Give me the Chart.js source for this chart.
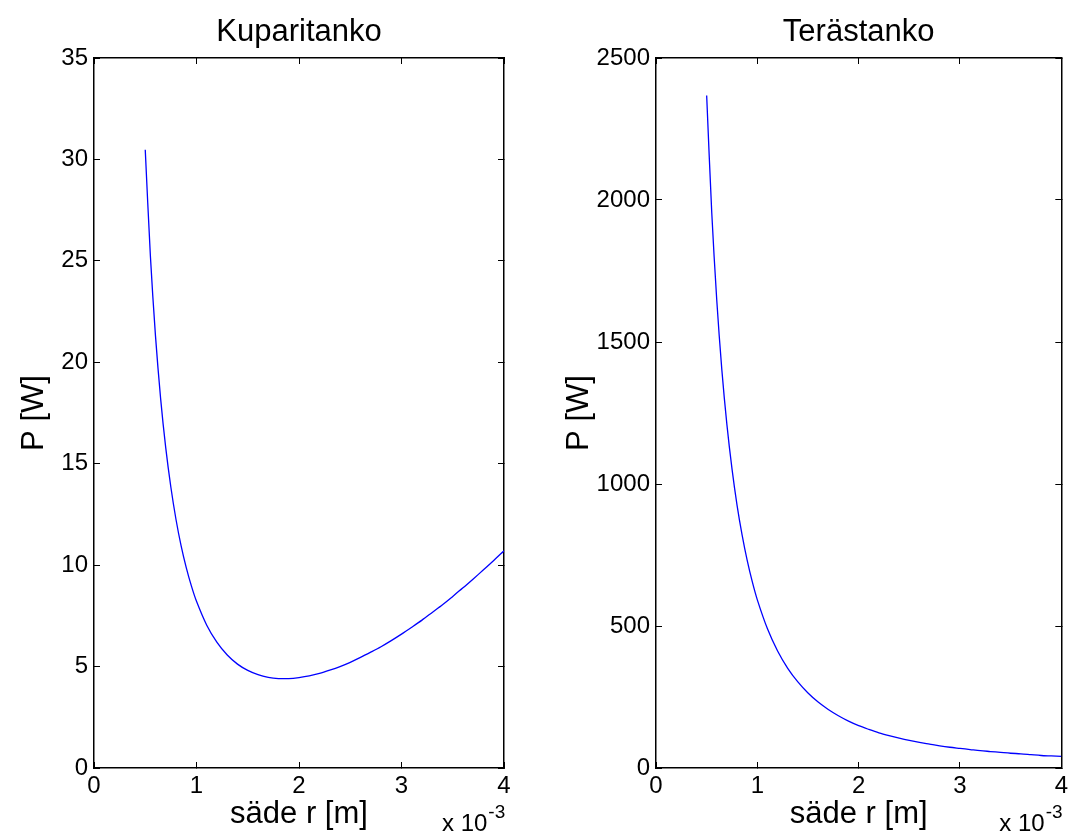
<!DOCTYPE html>
<html>
<head>
<meta charset="utf-8">
<script src="https://cdn.jsdelivr.net/npm/chart.js@4/dist/chart.umd.min.js"></script>
<style>
  body { margin: 0; background: #fff; }
  canvas { position: absolute; top: 0; }
  #copperChart { left: 0; }
  #steelChart { left: 539px; }
</style>
</head>
<body>
<canvas id="copperChart" width="539" height="836"></canvas>
<canvas id="steelChart" width="539" height="836"></canvas>
<script>
// radius r in units of 1e-3 m
const radius = [0.5, 0.55, 0.6, 0.65, 0.7, 0.75, 0.8, 0.85, 0.9, 0.95, 1.0, 1.1, 1.2, 1.3, 1.4, 1.5, 1.6, 1.7, 1.8, 1.9, 2.0,
    2.1, 2.2, 2.3, 2.4, 2.5, 2.6, 2.7, 2.8, 2.9, 3.0, 3.1, 3.2, 3.3, 3.4, 3.5, 3.6, 3.7, 3.8, 3.9, 4.0];
// power P [W]
const copperP = [30.48, 25.25, 21.29, 18.21, 15.78, 13.84, 12.25, 10.95, 9.88, 8.98, 8.22, 7.04, 6.19, 5.57, 5.12, 4.81, 4.60, 4.47, 4.41, 4.41, 4.46,
    4.54, 4.66, 4.82, 5.00, 5.21, 5.45, 5.71, 5.98, 6.28, 6.60, 6.94, 7.29, 7.67, 8.05, 8.46, 8.88, 9.32, 9.77, 10.23, 10.71];
const steelP = [2368, 1957, 1645, 1401, 1208, 1053, 925, 820, 731, 656, 592, 490, 412, 351, 303, 264, 232, 206, 184, 165, 149,
    136, 124, 114, 105, 97, 90, 84, 78, 73, 69, 65, 61, 58, 55, 52, 50, 47, 44, 42.5, 41];

const xTicks = [0, 1, 2, 3, 4];
const copperTicks = [0, 5, 10, 15, 20, 25, 30, 35];
const steelTicks = [0, 500, 1000, 1500, 2000, 2500];

const FONT = "'Liberation Sans', Arial, sans-serif";
Chart.defaults.font.family = FONT;
Chart.defaults.color = "#000";

// "x 10^-3" exponent under the right end of the x axis
const exponentLabel = {
    id: "exponentLabel",
    afterDraw(chart) {
        const ctx = chart.ctx;
        const right = chart.chartArea.right;
        ctx.save();
        ctx.fillStyle = "#000";
        ctx.textBaseline = "alphabetic";
        ctx.textAlign = "left";
        ctx.font = "24px " + FONT;
        const base = "x 10";
        const w = ctx.measureText(base).width;
        const x0 = right - 62;
        ctx.fillText(base, x0, 831);
        ctx.font = "19px " + FONT;
        ctx.fillText("-3", x0 + w + 1, 818);
        ctx.restore();
    }
};

function tickList(values) {
    return function (scale) {
        scale.ticks = values.map(v => ({ value: v }));
    };
}

function makeChart(id, title, values, yTicks, yMax, yWidth, padRight, yTitlePad) {
    const points = radius.map((r, i) => ({ x: r, y: values[i] }));
    const grid = {
        drawOnChartArea: false,
        drawTicks: true,
        tickLength: -6,
        tickColor: "#000",
        tickWidth: 1
    };
    const border = { display: true, color: "#000", width: 1.5 };
    const plain = v => String(v);
    return new Chart(document.getElementById(id), {
        type: "line",
        data: {
            datasets: [{
                data: points,
                borderColor: "#0000ff",
                borderWidth: 1.3,
                pointRadius: 0,
                fill: false,
                tension: 0.3
            }]
        },
        options: {
            responsive: false,
            animation: false,
            events: [],
            layout: { padding: { left: 0, right: padRight, top: 0, bottom: 0 } },
            plugins: {
                legend: { display: false },
                tooltip: { enabled: false },
                title: {
                    display: true,
                    text: title,
                    fullSize: false,
                    color: "#000",
                    font: { size: 31, weight: "normal", lineHeight: 1.2 },
                    padding: { top: 14, bottom: 6.8 }
                }
            },
            scales: {
                x: {
                    type: "linear",
                    position: "bottom",
                    min: 0,
                    max: 4,
                    afterBuildTicks: tickList(xTicks),
                    afterFit: s => { s.height = 68; },
                    grid: grid,
                    border: border,
                    ticks: { font: { size: 24, lineHeight: 1.2 }, padding: 10, maxRotation: 0, callback: plain },
                    title: {
                        display: true,
                        text: "säde r [m]",
                        font: { size: 31, lineHeight: 1.2 },
                        padding: { top: 0, bottom: 3 }
                    }
                },
                x2: {
                    type: "linear",
                    position: "top",
                    min: 0,
                    max: 4,
                    afterBuildTicks: tickList(xTicks),
                    afterFit: s => { s.height = 0; },
                    grid: grid,
                    border: border,
                    ticks: { display: false }
                },
                y: {
                    type: "linear",
                    position: "left",
                    min: 0,
                    max: yMax,
                    afterBuildTicks: tickList(yTicks),
                    afterFit: s => { s.width = yWidth; },
                    grid: grid,
                    border: border,
                    ticks: { font: { size: 24, lineHeight: 1.2 }, padding: 12, callback: plain },
                    title: {
                        display: true,
                        text: "P [W]",
                        font: { size: 31, lineHeight: 1.2 },
                        padding: { top: yTitlePad, bottom: 0 }
                    }
                },
                y2: {
                    type: "linear",
                    position: "right",
                    min: 0,
                    max: yMax,
                    afterBuildTicks: tickList(yTicks),
                    afterFit: s => { s.width = 0; },
                    grid: grid,
                    border: border,
                    ticks: { display: false }
                }
            }
        },
        plugins: [exponentLabel]
    });
}

makeChart("copperChart", "Kuparitanko", copperP, copperTicks, 35, 94, 35, 16);
makeChart("steelChart", "Terästanko", steelP, steelTicks, 2500, 117, 12, 22);
</script>
</body>
</html>
